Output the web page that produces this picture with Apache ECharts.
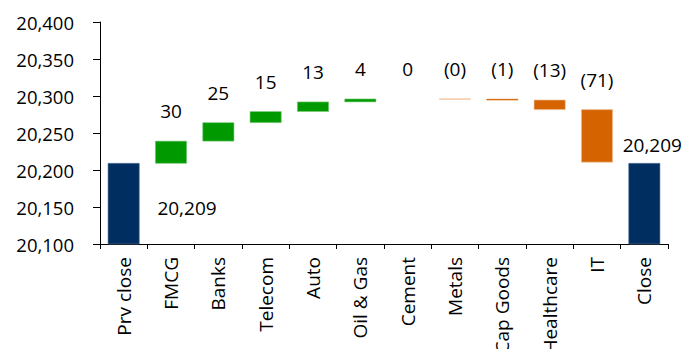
<!DOCTYPE html>
<html>
<head>
<meta charset="utf-8">
<title>Index waterfall</title>
<script src="https://cdn.jsdelivr.net/npm/echarts@6/dist/echarts.min.js"></script>
<style>
  html, body { margin: 0; padding: 0; background: #ffffff; }
  #chart { width: 695px; height: 349px; }
</style>
</head>
<body>
<div id="chart"></div>
<script>
// Sector contributions to the index move, from previous close to close
const categories = ['Prv close', 'FMCG', 'Banks', 'Telecom', 'Auto', 'Oil & Gas',
                    'Cement', 'Metals', 'Cap Goods', 'Healthcare', 'IT', 'Close'];
const prevClose = 20209;
const changes = [30, 25, 15, 13, 4, 0, -0.4, -1, -13, -71];
const closeValue = 20209;
const yTicks = [20100, 20150, 20200, 20250, 20300, 20350, 20400];

const COLORS = {
  total: '#002e60',
  totalEdge: '#5c7aa0',
  up: '#009a00',
  upEdge: '#7fcc7f',
  down: '#d46300',
  downEdge: '#f3c9a6'
};

// Rows: [categoryIndex, low, high, kind, change]; kind 0 = open, 1 = up, 2 = down, 3 = close
const rows = [];
rows.push([0, yTicks[0], prevClose, 0, prevClose]);
let level = prevClose;
changes.forEach((c, i) => {
  const next = level + c;
  rows.push([i + 1, Math.min(level, next), Math.max(level, next), c >= 0 ? 1 : 2, c]);
  level = next;
});
rows.push([categories.length - 1, yTicks[0], closeValue, 3, closeValue]);

const fmtNum = v => Math.round(v).toLocaleString('en-US');
const fmtChange = v => {
  const r = Math.round(Math.abs(v));
  return v < 0 ? '(' + r + ')' : String(r);
};

const FONT = '"Open Sans", sans-serif';

const chart = echarts.init(document.getElementById('chart'), null, { renderer: 'svg' });

chart.setOption({
  animation: false,
  grid: { left: 100, right: 27, top: 22, bottom: 105, containLabel: false, outerBoundsMode: 'none' },
  xAxis: {
    type: 'category',
    data: categories,
    boundaryGap: true,
    axisLine: { lineStyle: { color: '#000', width: 1 } },
    axisTick: { show: true, length: 5, lineStyle: { color: '#000' } },
    axisLabel: {
      rotate: 90, margin: 13, color: '#000',
      fontFamily: FONT, fontSize: 19, interval: 0
    },
    splitLine: { show: false }
  },
  yAxis: {
    type: 'value',
    min: yTicks[0],
    max: yTicks[yTicks.length - 1],
    interval: 50,
    axisLine: { show: true, lineStyle: { color: '#000', width: 1 } },
    axisTick: { show: true, length: 7, lineStyle: { color: '#000' } },
    axisLabel: {
      margin: 26, color: '#000', fontFamily: FONT, fontSize: 18.5,
      formatter: v => fmtNum(v)
    },
    splitLine: { show: false }
  },
  series: [{
    type: 'custom',
    data: rows,
    dimensions: ['cat', 'low', 'high', 'kind', 'change'],
    encode: { x: 0, y: [1, 2] },
    renderItem: function (params, api) {
      const idx = api.value(0);
      const low = api.value(1);
      const high = api.value(2);
      const kind = api.value(3);
      const change = api.value(4);
      const pLow = api.coord([idx, low]);
      const pHigh = api.coord([idx, high]);
      const bandW = api.size([1, 0])[0];
      const w = bandW * 0.66;
      const cx = pLow[0];
      const top = pHigh[1];
      const h = Math.max(pLow[1] - pHigh[1], 0);
      const isTotal = kind === 0 || kind === 3;
      const fill = isTotal ? COLORS.total : (kind === 1 ? COLORS.up : COLORS.down);
      const edge = isTotal ? COLORS.totalEdge : (kind === 1 ? COLORS.upEdge : COLORS.downEdge);
      const children = [];
      if (h > 0) {
        const solid = h >= 0.5;
        children.push({
          type: 'rect',
          shape: { x: cx - w / 2, y: top, width: w, height: h },
          style: { fill: solid ? fill : 'none', stroke: solid && h < 2 ? fill : edge, lineWidth: solid ? 0.6 : 1 }
        });
      }
      let text, tx, ty;
      if (kind === 0) {
        text = fmtNum(high);
        tx = cx + bandW + 16;
        ty = top + 45;
      } else if (kind === 3) {
        text = fmtNum(high);
        tx = cx + 8;
        ty = top - 18;
      } else {
        text = fmtChange(change);
        tx = cx;
        ty = top - 30;
      }
      children.push({
        type: 'text',
        style: {
          text: text, x: tx, y: ty,
          align: 'center', verticalAlign: 'middle',
          fill: '#000', font: '19px ' + FONT
        }
      });
      return { type: 'group', children: children };
    }
  }]
});
</script>
</body>
</html>
